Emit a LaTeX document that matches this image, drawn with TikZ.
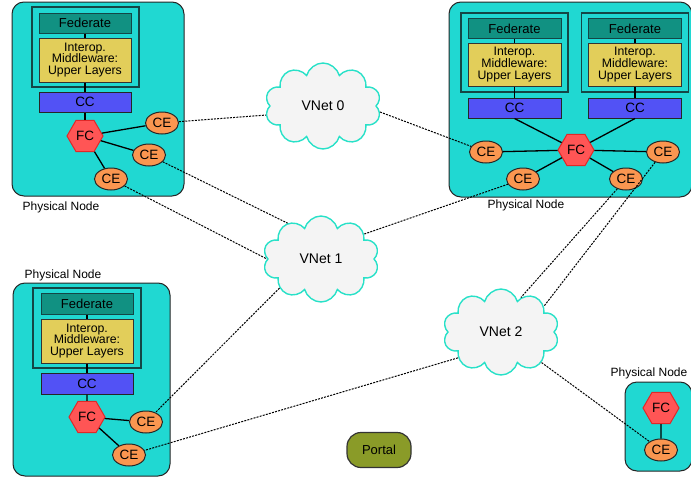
\documentclass[tikz,border=0pt]{standalone}
\usepackage{fontspec}
\setmainfont{Liberation Sans}
\usetikzlibrary{shapes.geometric,shapes.symbols}
\definecolor{physc}{RGB}{32,216,210}
\definecolor{framec}{RGB}{20,70,70}
\definecolor{fedc}{RGB}{17,145,130}
\definecolor{midc}{RGB}{226,206,90}
\definecolor{ccc}{RGB}{82,82,245}
\definecolor{fcc}{RGB}{255,85,85}
\definecolor{fcb}{RGB}{225,40,40}
\definecolor{cec}{RGB}{250,150,80}
\definecolor{portc}{RGB}{138,155,40}
\definecolor{cloudf}{RGB}{244,244,244}
\definecolor{cloudb}{RGB}{40,225,200}
\tikzset{
  phys/.style={draw=black!85, fill=physc, rounded corners=12pt, line width=1pt, inner sep=0pt},
  stackframe/.style={draw=framec, line width=1.1pt, inner sep=0pt},
  fedbox/.style={draw=framec, fill=fedc, line width=1pt, inner sep=0pt, minimum height=20pt, font=\fontsize{13}{15}\selectfont},
  midbox/.style={draw=black!80, fill=midc, line width=1pt, inner sep=0pt, align=center, font=\fontsize{12.3}{11.8}\selectfont},
  ccbox/.style={draw=black!85, fill=ccc, line width=1pt, inner sep=0pt, minimum height=20pt, font=\fontsize{13.5}{15}\selectfont},
  fchex/.style={regular polygon, regular polygon sides=6, minimum size=36pt, inner sep=0pt, draw=fcb, fill=fcc, line width=1pt, font=\fontsize{13.5}{15}\selectfont},
  ceell/.style={ellipse, minimum width=33pt, minimum height=22pt, inner sep=0pt, draw=black!85, fill=cec, line width=1pt, font=\fontsize{13.5}{15}\selectfont},
  physlabel/.style={font=\fontsize{12}{14}\selectfont, inner sep=0pt},
  vnet/.style={cloud, cloud puffs=10, cloud ignores aspect, minimum width=116pt, minimum height=86pt, inner sep=0pt, draw=cloudb, fill=cloudf, line width=1.4pt, font=\fontsize{14}{16}\selectfont},
  portalbox/.style={draw=black!80, fill=portc, rounded corners=14pt, line width=1.2pt, minimum width=64pt, minimum height=35pt, inner sep=0pt, font=\fontsize{13}{15}\selectfont},
  solidlink/.style={draw=black, line width=1.3pt},
  netlink/.style={draw=black, line width=1pt, dash pattern=on 2pt off 1.2pt},
}
\begin{document}
\begin{tikzpicture}[x=1pt,y=-1pt]
\useasboundingbox (0,0) rectangle (691,479);
\fill[white] (0,0) rectangle (691,479);

% ---------- Top-left physical node ----------
\node[phys, minimum width=172pt, minimum height=194pt] (tlphys) at (98,99) {};
\node[stackframe, minimum width=107pt, minimum height=80pt] (tlframe) at (85.5,47) {};
\node[fedbox, minimum width=92pt] (tlfed) at (85,23) {Federate};
\node[midbox, minimum width=92pt, minimum height=44pt] (tlmid) at (85,60) {Interop.\\Middleware:\\Upper Layers};
\node[ccbox, minimum width=92pt] (tlcc) at (85,102) {CC};
\node[fchex] (tlfc) at (85,136) {FC};
\node[ceell] (tlce1) at (162,123) {CE};
\node[ceell] (tlce2) at (149,155) {CE};
\node[ceell] (tlce3) at (111,179) {CE};
\node[physlabel] (tllab) at (61,207) {Physical Node};
\draw[solidlink] (tlfed) -- (tlmid);
\draw[solidlink] (tlmid) -- (tlcc);
\draw[solidlink] (tlcc) -- (tlfc);
\draw[solidlink] (tlfc) -- (tlce1);
\draw[solidlink] (tlfc) -- (tlce2);
\draw[solidlink] (tlfc) -- (tlce3);

% ---------- Top-right physical node ----------
\node[phys, minimum width=243pt, minimum height=195pt] (trphys) at (570.5,99.5) {};
\node[stackframe, minimum width=107pt, minimum height=79pt] (trframeA) at (514.5,52.5) {};
\node[fedbox, minimum width=93pt] (trfedA) at (514.5,28.5) {Federate};
\node[midbox, minimum width=93pt, minimum height=43pt] (trmidA) at (514.5,64.5) {Interop.\\Middleware:\\Upper Layers};
\node[ccbox, minimum width=93pt] (trccA) at (514.5,108) {CC};
\node[stackframe, minimum width=107pt, minimum height=79pt] (trframeB) at (635,52.5) {};
\node[fedbox, minimum width=93pt] (trfedB) at (635,28.5) {Federate};
\node[midbox, minimum width=93pt, minimum height=43pt] (trmidB) at (635,64.5) {Interop.\\Middleware:\\Upper Layers};
\node[ccbox, minimum width=93pt] (trccB) at (635,108) {CC};
\node[fchex] (trfc) at (576,150) {FC};
\node[ceell] (trce1) at (486,152) {CE};
\node[ceell] (trce2) at (523,179) {CE};
\node[ceell] (trce3) at (626,179) {CE};
\node[ceell] (trce4) at (663,152) {CE};
\node[physlabel] (trlab) at (526,205) {Physical Node};
\draw[solidlink] (trfedA) -- (trmidA);
\draw[solidlink] (trmidA) -- (trccA);
\draw[solidlink] (trfedB) -- (trmidB);
\draw[solidlink] (trmidB) -- (trccB);
\draw[solidlink] (trccA.south) -- (trfc);
\draw[solidlink] (trccB.south) -- (trfc);
\draw[solidlink] (trfc) -- (trce1);
\draw[solidlink] (trfc) -- (trce2);
\draw[solidlink] (trfc) -- (trce3);
\draw[solidlink] (trfc) -- (trce4);

% ---------- Bottom-left physical node ----------
\node[phys, minimum width=157pt, minimum height=193pt] (blphys) at (91.5,379.5) {};
\node[stackframe, minimum width=108pt, minimum height=80pt] (blframe) at (87,328) {};
\node[fedbox, minimum width=92pt, minimum height=21pt] (blfed) at (87,303.5) {Federate};
\node[midbox, minimum width=92pt, minimum height=44pt] (blmid) at (87,341) {Interop.\\Middleware:\\Upper Layers};
\node[ccbox, minimum width=92pt, minimum height=21pt] (blcc) at (87,383.5) {CC};
\node[fchex] (blfc) at (87,417) {FC};
\node[ceell] (blce1) at (146,422) {CE};
\node[ceell] (blce2) at (129,455) {CE};
\node[physlabel] (bllab) at (63,275) {Physical Node};
\draw[solidlink] (blfed) -- (blmid);
\draw[solidlink] (blmid) -- (blcc);
\draw[solidlink] (blcc) -- (blfc);
\draw[solidlink] (blfc) -- (blce1);
\draw[solidlink] (blfc) -- (blce2);

% ---------- Bottom-right physical node ----------
\node[phys, minimum width=67pt, minimum height=89pt] (brphys) at (658.5,426.5) {};
\node[fchex] (brfc) at (661,408) {FC};
\node[ceell] (brce) at (661,450) {CE};
\node[physlabel] (brlab) at (649,373) {Physical Node};
\draw[solidlink] (brfc) -- (brce);

% ---------- Virtual networks ----------
\node[vnet] (v0) at (323,106) {VNet 0};
\node[vnet] (v1) at (321,259) {VNet 1};
\node[vnet] (v2) at (501,332) {VNet 2};

% ---------- Portal ----------
\node[portalbox] (portal) at (379,450) {Portal};

% ---------- Network links ----------
\draw[netlink] (tlce1) -- (v0.189);
\draw[netlink] (tlce2) -- (v1.133);
\draw[netlink] (tlce3) -- (v1.180);
\draw[netlink] (v0.354) -- (trce1);
\draw[netlink] (v1.30) -- (trce2);
\draw[netlink] (trce3) -- (v2.60);
\draw[netlink] (trce4) -- (v2.31);
\draw[netlink] (v2.323) -- (brce);
\draw[netlink] (v2.211) -- (blce2);
\draw[netlink] (v1.215) -- (blce1);
\end{tikzpicture}
\end{document}
